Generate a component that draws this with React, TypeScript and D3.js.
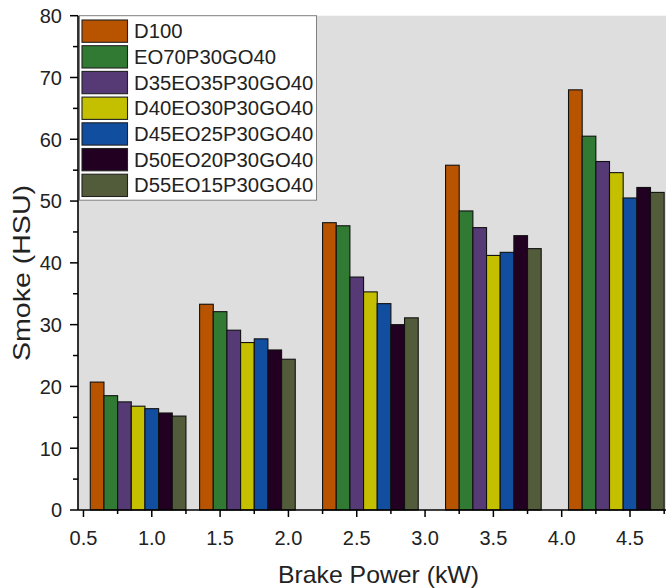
import React from "react";
import * as d3 from "d3";

// Brake power at which each blend was tested (kW)
const powers = [0.9, 1.7, 2.6, 3.5, 4.4];

const seriesNames = [
  "D100",
  "EO70P30GO40",
  "D35EO35P30GO40",
  "D40EO30P30GO40",
  "D45EO25P30GO40",
  "D50EO20P30GO40",
  "D55EO15P30GO40",
];

const seriesColors = ["#b85400", "#317a33", "#553a76", "#c4c000", "#124ea0", "#210021", "#535c3a"];

// Smoke opacity (HSU), one array per blend, ordered by brake power
const d100 = [20.7, 33.3, 46.5, 55.8, 68.0];
const eo70 = [18.5, 32.1, 46.0, 48.4, 60.5];
const d35 = [17.5, 29.1, 37.7, 45.7, 56.4];
const d40 = [16.8, 27.1, 35.3, 41.2, 54.6];
const d45 = [16.4, 27.7, 33.4, 41.7, 50.5];
const d50 = [15.7, 25.9, 30.0, 44.4, 52.2];
const d55 = [15.2, 24.4, 31.1, 42.3, 51.4];

const seriesValues = [d100, eo70, d35, d40, d45, d50, d55];

const xTicks = [0.5, 1.0, 1.5, 2.0, 2.5, 3.0, 3.5, 4.0, 4.5];
const xMinor = [0.75, 1.25, 1.75, 2.25, 2.75, 3.25, 3.75, 4.25, 4.75];
const yTicks = [0, 10, 20, 30, 40, 50, 60, 70, 80];
const yMinor = [5, 15, 25, 35, 45, 55, 65, 75];

const W = 666;
const H = 588;
const FONT = "Arial, 'Liberation Sans', Helvetica, sans-serif";
const barW = 0.1; // kW per bar

export default function App() {
  const x = d3.scaleLinear().domain([0.46, 4.8]).range([78, 671]);
  const y = d3.scaleLinear().domain([0, 80]).range([510, 15.7]);
  const bw = x(barW) - x(0);
  const n = seriesNames.length;

  return (
    <svg
      width={W}
      height={H}
      style={{ position: "absolute", left: 0, top: 0, background: "#fff" }}
      fontFamily={FONT}
    >
      {/* plot background */}
      <rect x={x(0.46)} y={y(80)} width={x(4.8) - x(0.46)} height={y(0) - y(80)} fill="#dedede" />

      {/* bars */}
      {seriesValues.map((vals, si) =>
        vals.map((v, pi) => {
          const cx = powers[pi] + (si - (n - 1) / 2) * barW;
          const x0 = x(cx) - bw / 2;
          return (
            <rect
              key={`${si}-${pi}`}
              x={x0}
              y={y(v)}
              width={bw}
              height={y(0) - y(v)}
              fill={seriesColors[si]}
              stroke="#111"
              strokeWidth={1.1}
            />
          );
        })
      )}

      {/* axes */}
      <line x1={x(0.46)} x2={x(4.8)} y1={y(0)} y2={y(0)} stroke="#000" strokeWidth={1.6} />
      <line x1={x(0.46)} x2={x(0.46)} y1={y(0)} y2={y(80)} stroke="#000" strokeWidth={1.6} />

      {xTicks.map((t) => (
        <g key={`xt${t}`}>
          <line x1={x(t)} x2={x(t)} y1={y(0)} y2={y(0) + 7} stroke="#000" strokeWidth={1.5} />
          <text x={x(t)} y={544.5} textAnchor="middle" fontSize={20} fill="#222">
            {t.toFixed(1)}
          </text>
        </g>
      ))}
      {xMinor.map((t) => (
        <line key={`xm${t}`} x1={x(t)} x2={x(t)} y1={y(0)} y2={y(0) + 4} stroke="#000" strokeWidth={1.5} />
      ))}

      {yTicks.map((t) => (
        <g key={`yt${t}`}>
          <line x1={x(0.46) - 8} x2={x(0.46)} y1={y(t)} y2={y(t)} stroke="#000" strokeWidth={1.5} />
          <text x={62} y={y(t) + 7.3} textAnchor="end" fontSize={20} fill="#222">
            {t}
          </text>
        </g>
      ))}
      {yMinor.map((t) => (
        <line key={`ym${t}`} x1={x(0.46) - 5} x2={x(0.46)} y1={y(t)} y2={y(t)} stroke="#000" strokeWidth={1.5} />
      ))}

      {/* axis titles */}
      <text
        x={378.5}
        y={583}
        textAnchor="middle"
        fontSize={24}
        textLength={201}
        lengthAdjust="spacingAndGlyphs"
        fill="#222"
      >
        Brake Power (kW)
      </text>
      <text
        transform={`translate(29.5, 273) rotate(-90)`}
        textAnchor="middle"
        fontSize={24}
        textLength={176}
        lengthAdjust="spacingAndGlyphs"
        fill="#222"
      >
        Smoke (HSU)
      </text>

      {/* legend */}
      <g>
        <rect x={79.5} y={15.7} width={237} height={184.5} fill="#fff" stroke="#808080" strokeWidth={1} />
        {seriesNames.map((name, i) => (
          <g key={name} transform={`translate(82, ${20 + i * 25.7})`}>
            <rect x={0} y={0} width={45.5} height={22.3} fill={seriesColors[i]} stroke="#222" strokeWidth={1.1} />
            <text x={52} y={18.3} fontSize={20.3} fill="#222">
              {name}
            </text>
          </g>
        ))}
      </g>
    </svg>
  );
}
